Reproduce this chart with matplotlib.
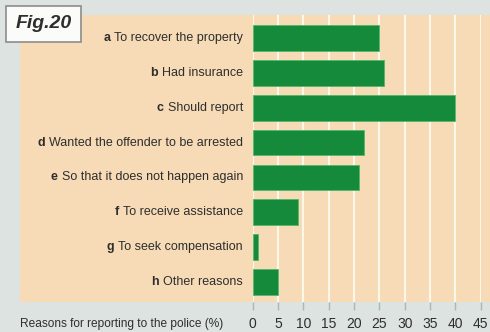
import matplotlib
matplotlib.use("Agg")
import matplotlib.pyplot as plt
from matplotlib.patches import Rectangle

letters = ["a", "b", "c", "d", "e", "f", "g", "h"]
reasons = [
    "To recover the property",
    "Had insurance",
    "Should report",
    "Wanted the offender to be arrested",
    "So that it does not happen again",
    "To receive assistance",
    "To seek compensation",
    "Other reasons",
]
percent = [25, 26, 40, 22, 21, 9, 1, 5]
ticks = [0, 5, 10, 15, 20, 25, 30, 35, 40, 45]

W, H = 490, 332
plt.rcParams["font.family"] = ["Liberation Sans", "DejaVu Sans"]
fig = plt.figure(figsize=(W / 100, H / 100), dpi=100)
fig.patch.set_facecolor("#dde3e0")


def px(x0, y0, x1, y1):
    """Pixel box (top-left origin) to figure-fraction rect."""
    return (x0 / W, 1 - y1 / H, (x1 - x0) / W, (y1 - y0) / H)


# background layer: peach panel and figure badge
bg = fig.add_axes([0, 0, 1, 1], zorder=-1)
bg.set_xlim(0, W)
bg.set_ylim(H, 0)
bg.axis("off")
bg.add_patch(Rectangle((20, 15), W - 20, 287, facecolor="#f6dbb6", edgecolor="none"))

ax = fig.add_axes(px(252.7, 15, 480.7, 302), zorder=1)
ax.set_facecolor("none")
ax.set_xlim(0, 45)
ax.set_ylim(7.574, -0.66)
for s in ax.spines.values():
    s.set_visible(False)

for t in ticks:
    ax.axvline(t, color="#fff6ea", lw=1.5, zorder=1)

y = list(range(len(percent)))
ax.barh(y, percent, height=0.74, color="#158a3a", edgecolor="#4fb86a",
        linewidth=0.6, zorder=3)

ax.set_yticks([])
ax.set_xticks(ticks)
ax.set_xticklabels([str(t) for t in ticks], fontsize=10, color="#2e2e2e")
ax.tick_params(axis="x", length=6, width=1, color="#a9b8c0", pad=5)

fig.canvas.draw()
renderer = fig.canvas.get_renderer()

label_x = (243 - 252.7) / 228 * 45
for yi, (let, txt) in enumerate(zip(letters, reasons)):
    t = ax.text(label_x, yi, txt, ha="right", va="center", fontsize=9,
                color="#2e2e2e", zorder=4, clip_on=False)
    ext = t.get_window_extent(renderer)
    lx = ax.transData.inverted().transform((ext.x0 - 4, 0))[0]
    ax.text(lx, yi, let, ha="right", va="center", fontsize=9,
            fontweight="bold", color="#2e2e2e", zorder=4, clip_on=False)

bg.text(20, 324, "Reasons for reporting to the police (%)",
        ha="left", va="center", fontsize=8.6, color="#2e2e2e")

# figure number badge
bg.add_patch(Rectangle((6, 6), 75, 36, facecolor="#fbfbfa",
                       edgecolor="#8c8c8c", linewidth=1.2, zorder=5))
bg.text(43.5, 24, "Fig.20", ha="center", va="center", fontsize=14,
        fontstyle="italic", fontweight="bold", color="#2e2e2e", zorder=6)

fig.savefig("out.png", dpi=100, facecolor=fig.get_facecolor())
